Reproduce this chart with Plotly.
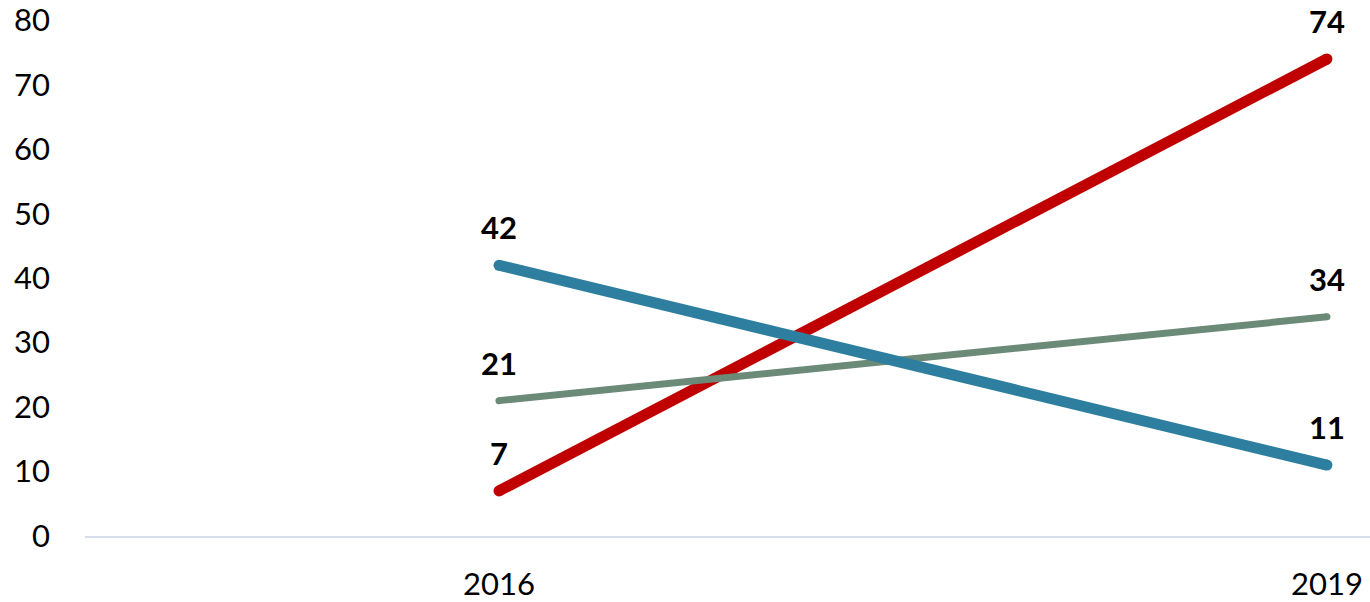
import plotly.graph_objects as go

categories = ["2016", "2019"]
series_names = ["Series A", "Series B", "Series C"]
red_values = [7, 74]
gray_values = [21, 34]
blue_values = [42, 11]
y_ticks = [0, 10, 20, 30, 40, 50, 60, 70, 80]

FONT = "Lato"
xpos = list(range(len(categories)))

fig = go.Figure()
styles = [
    (series_names[0], red_values, "#C00000", 11),
    (series_names[1], gray_values, "#6B8A78", 7),
    (series_names[2], blue_values, "#2E7F9F", 11),
]
for name, vals, color, w in styles:
    fig.add_trace(go.Scatter(
        x=xpos, y=vals, name=name, mode="lines+markers",
        line=dict(color=color, width=w),
        marker=dict(color=color, size=w, line=dict(width=0)),
        cliponaxis=False, showlegend=False, hoverinfo="skip",
    ))
    for xi, v in zip(xpos, vals):
        fig.add_annotation(
            x=xi, y=v, text=f"<b>{v}</b>", showarrow=False,
            yshift=38, xanchor="center", yanchor="middle",
            font=dict(family=FONT, size=31, color="#000000"),
        )

fig.update_layout(
    width=1370, height=602,
    margin=dict(l=85, r=0, t=18, b=64),
    paper_bgcolor="white", plot_bgcolor="white",
    font=dict(family=FONT, size=31, color="#000000"),
    xaxis=dict(
        range=[-0.5, 1.052], tickmode="array", tickvals=xpos, ticktext=categories,
        showgrid=False, zeroline=False, showline=True, linecolor="#D6DEE9", linewidth=2,
        ticks="", ticklabelstandoff=20, fixedrange=True, ticklabeloverflow="allow",
    ),
    yaxis=dict(
        range=[0, 80.05], tickmode="array", tickvals=y_ticks,
        showgrid=False, zeroline=False, showline=False, ticks="",
        ticklabelstandoff=34, fixedrange=True, ticklabeloverflow="allow",
    ),
)

fig.write_html(
    "out.html",
    config={"displayModeBar": False},
    post_script="document.body.style.margin='0';document.body.style.padding='0';document.body.style.overflow='hidden';",
)
